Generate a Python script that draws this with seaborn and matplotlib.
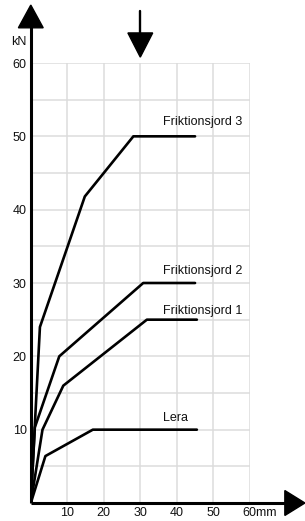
import numpy as np
import pandas as pd
import matplotlib
matplotlib.use("Agg")
import matplotlib.pyplot as plt
from matplotlib.patches import Polygon
import seaborn as sns

# ------------------------------------------------------------
# data (mm, kN)
# ------------------------------------------------------------
series_names = ["Lera", "Friktionsjord 1", "Friktionsjord 2", "Friktionsjord 3"]

lera_mm = [0, 4, 17, 45.5]
lera_kn = [0, 6.4, 10, 10]

fj1_mm = [0, 3.2, 8.9, 31.8, 45.5]
fj1_kn = [0, 10, 16, 25, 25]

fj2_mm = [0, 1.1, 7.8, 30.8, 45]
fj2_kn = [0, 10.3, 20, 30, 30]

fj3_mm = [0, 2.5, 14.8, 28.1, 45]
fj3_kn = [0, 24, 41.8, 50, 50]

label_pos_mm = [36.2, 36.2, 36.2, 36.2]
label_pos_kn = [11.6, 26.2, 31.7, 52.0]

x_ticks = [10, 20, 30, 40, 50]
y_ticks = [10, 20, 30, 40, 50, 60]

# ------------------------------------------------------------
# long frame for seaborn
# ------------------------------------------------------------
frames = []
for name, xs, ys in zip(series_names,
                        [lera_mm, fj1_mm, fj2_mm, fj3_mm],
                        [lera_kn, fj1_kn, fj2_kn, fj3_kn]):
    frames.append(pd.DataFrame({"mm": xs, "kN": ys, "serie": name,
                                "order": range(len(xs))}))
df = pd.concat(frames, ignore_index=True)

sns.set_style("white")
plt.rcParams["font.family"] = ["Liberation Sans", "DejaVu Sans"]

fig = plt.figure(figsize=(3.05, 5.21), dpi=100)
ax = fig.add_axes([30.8 / 305, 18 / 521, 219 / 305, 440 / 521])

sns.lineplot(data=df, x="mm", y="kN", hue="serie", units="serie",
             estimator=None, sort=False,
             palette=["black"] * 4, linewidth=1.9, legend=False, ax=ax,
             zorder=3)

ax.set_xlim(0, 60)
ax.set_ylim(0, 60)
ax.set_xlabel("")
ax.set_ylabel("")

# grid
ax.set_xticks(x_ticks)
ax.set_xticks([60], minor=True)
ax.set_yticks(y_ticks)
ax.set_yticks(np.arange(5, 60, 10), minor=True)
ax.grid(True, which="both", color="#dcdcdc", linewidth=1.1, zorder=0)
ax.tick_params(which="both", length=0, labelsize=9, colors="#111111")
ax.tick_params(axis="x", pad=3)
ax.tick_params(axis="y", pad=3)
for s in ax.spines.values():
    s.set_visible(False)

# axes with arrows
ax.plot([0, 70], [0, 0], color="black", lw=2.2, clip_on=False, zorder=4,
        solid_capstyle="butt")
ax.plot([0, 0], [0, 65], color="black", lw=2.2, clip_on=False, zorder=4,
        solid_capstyle="butt")
ax.add_patch(Polygon([[69.6, -1.7], [75.1, 0], [69.6, 1.7]], closed=True,
                     color="black", clip_on=False, zorder=5))
ax.add_patch(Polygon([[-3.4, 64.8], [0, 67.9], [3.4, 64.8]], closed=True,
                     color="black", clip_on=False, zorder=5))

# load arrow
ax.plot([30, 30], [67.1, 64], color="black", lw=1.7, clip_on=False, zorder=4)
ax.add_patch(Polygon([[26.6, 64.1], [30, 60.8], [33.4, 64.1]], closed=True,
                     color="black", clip_on=False, zorder=5))

# texts
ax.text(-1.2, 62.8, "kN", ha="right", va="center", fontsize=9,
        color="#111111")
ax.text(58.1, -1.3, "60mm", ha="left", va="center", fontsize=9,
        color="#111111")
for name, lx, ly in zip(series_names, label_pos_mm, label_pos_kn):
    ax.text(lx, ly, name, ha="left", va="center", fontsize=9,
            color="#111111", zorder=6)

fig.savefig("out.png", dpi=100)
